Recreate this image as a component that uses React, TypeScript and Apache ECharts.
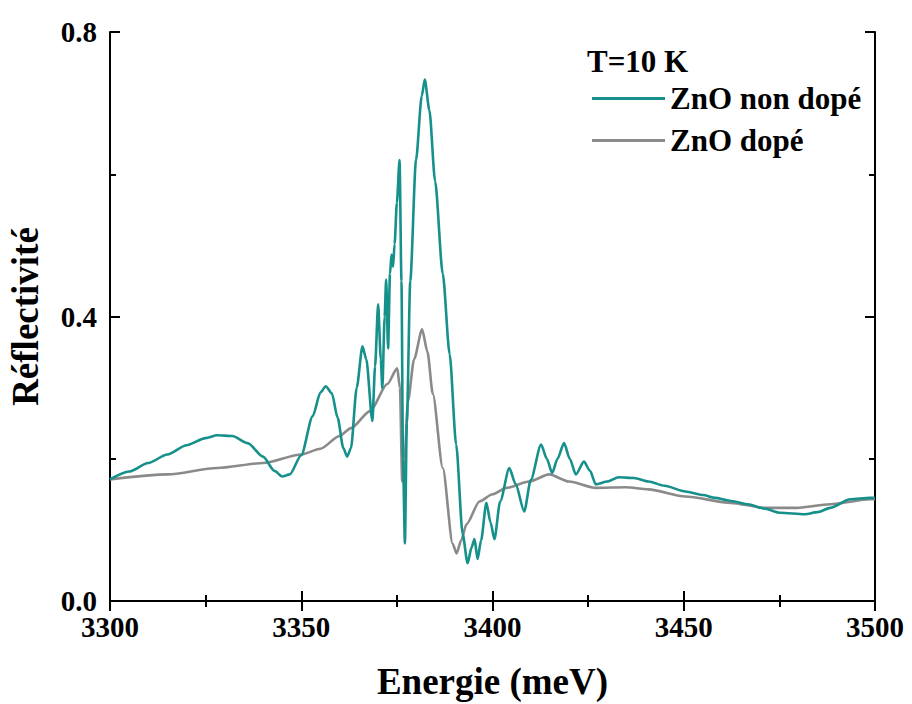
import React, { useEffect, useRef } from "react";
import * as echarts from "echarts";

const xTicks = [3300, 3350, 3400, 3450, 3500];
const yTicks = [0.0, 0.4, 0.8];

const undopedX = [3300, 3305, 3310, 3315, 3320, 3325, 3328, 3332, 3336, 3340, 3343, 3345, 3347, 3350, 3353, 3355, 3356.4, 3358, 3359.5, 3361, 3362, 3363, 3364.5, 3366, 3367, 3368.6, 3369.3, 3370.1, 3370.8, 3371.2, 3371.8, 3372.2, 3372.7, 3373.2, 3373.6, 3374, 3374.4, 3375, 3375.7, 3376.2, 3376.6, 3377.1, 3377.6, 3378.5, 3380, 3381.5, 3382.3, 3383.5, 3385, 3387, 3388.8, 3390.5, 3392.2, 3393.5, 3394.5, 3395.3, 3396.1, 3397, 3398.4, 3399.5, 3400.5, 3402, 3404.4, 3406, 3408.3, 3410, 3412.7, 3414.2, 3415.6, 3417, 3418.7, 3420.2, 3421.8, 3423.9, 3425.5, 3427, 3430, 3433, 3437, 3440.8, 3445, 3450.4, 3455, 3458.2, 3462, 3466.8, 3471, 3475.3, 3481.6, 3485, 3488.3, 3493.5, 3498.7, 3500];
const undopedY = [0.171, 0.182, 0.194, 0.206, 0.219, 0.229, 0.233, 0.232, 0.222, 0.203, 0.183, 0.175, 0.178, 0.205, 0.26, 0.293, 0.302, 0.292, 0.258, 0.215, 0.203, 0.215, 0.3, 0.358, 0.34, 0.253, 0.33, 0.417, 0.34, 0.299, 0.4, 0.452, 0.355, 0.46, 0.487, 0.47, 0.502, 0.56, 0.62, 0.45, 0.2, 0.081, 0.25, 0.45, 0.62, 0.71, 0.733, 0.69, 0.59, 0.46, 0.347, 0.22, 0.094, 0.053, 0.075, 0.087, 0.059, 0.085, 0.138, 0.11, 0.087, 0.14, 0.187, 0.165, 0.126, 0.17, 0.22, 0.2, 0.18, 0.2, 0.222, 0.2, 0.178, 0.196, 0.183, 0.164, 0.168, 0.174, 0.173, 0.168, 0.162, 0.154, 0.149, 0.145, 0.141, 0.136, 0.13, 0.124, 0.122, 0.125, 0.131, 0.143, 0.145, 0.145];

const dopedX = [3300, 3315, 3328, 3340, 3350, 3355, 3360, 3363, 3368, 3372.5, 3375.1, 3375.8, 3376.4, 3377, 3377.9, 3379.5, 3381.6, 3383, 3384.4, 3387, 3389.6, 3390.6, 3391.8, 3393.2, 3396.6, 3400, 3403.6, 3409.6, 3414.8, 3420, 3427, 3434.8, 3440.8, 3450.4, 3462.3, 3471.2, 3479.7, 3488.3, 3498.7, 3500];
const dopedY = [0.171, 0.178, 0.187, 0.194, 0.206, 0.214, 0.232, 0.243, 0.267, 0.305, 0.327, 0.3, 0.168, 0.2, 0.281, 0.34, 0.382, 0.35, 0.291, 0.187, 0.08, 0.067, 0.085, 0.108, 0.14, 0.15, 0.159, 0.168, 0.178, 0.168, 0.159, 0.16, 0.157, 0.147, 0.138, 0.131, 0.131, 0.136, 0.143, 0.143];

const seriesNames = ["ZnO non dopé", "ZnO dopé"];
const legendTitle = "T=10 K";
const TEAL = "#16908b";
const GRAY = "#8a8a8a";
const FONT = "Liberation Serif";

export default function App() {
  const ref = useRef<HTMLDivElement>(null);
  useEffect(() => {
    if (!ref.current) return;
    const chart = echarts.init(ref.current, undefined, { renderer: "svg" });
    const axisLine = { show: true, lineStyle: { color: "#000", width: 2 } };
    const tick = { show: true, inside: true, length: 10, lineStyle: { color: "#000", width: 2 } };
    const minor = { show: true, splitNumber: 2, length: 6, lineStyle: { color: "#000", width: 2 } };
    chart.setOption({
      animation: false,
      backgroundColor: "#fff",
      grid: { left: 110, right: 37, top: 32, bottom: 103, containLabel: false, outerBoundsMode: "none" },
      legend: {
        orient: "vertical",
        left: 587,
        top: 78,
        itemWidth: 73,
        itemHeight: 3,
        itemGap: 11,
        icon: "rect",
        textStyle: { fontFamily: FONT, fontWeight: "bold", fontSize: 31, color: "#000" },
        data: seriesNames,
      },
      graphic: [
        {
          type: "text",
          left: 587,
          top: 46,
          style: { text: legendTitle, font: `bold 31px ${FONT}`, fill: "#000" },
        },
      ],
      xAxis: [
        {
          type: "value",
          min: 3300,
          max: 3500,
          interval: 50,
          name: "Energie (meV)",
          nameLocation: "middle",
          nameGap: 63,
          nameTextStyle: { fontFamily: FONT, fontWeight: "bold", fontSize: 37, lineHeight: 34, color: "#000" },
          axisLine,
          axisTick: tick,
          minorTick: minor,
          splitLine: { show: false },
          axisLabel: {
            fontFamily: FONT,
            fontWeight: "bold",
            fontSize: 29,
            lineHeight: 22,
            color: "#000",
            margin: 15,
            formatter: (v: number) => (xTicks.includes(v) ? String(v) : ""),
          },
        },
        {
          type: "value",
          position: "top",
          min: 3300,
          max: 3500,
          interval: 50,
          axisLine,
          axisTick: tick,
          minorTick: minor,
          splitLine: { show: false },
          axisLabel: { show: false },
        },
      ],
      yAxis: [
        {
          type: "value",
          min: 0,
          max: 0.8,
          interval: 0.4,
          name: "Réflectivité",
          nameLocation: "middle",
          nameGap: 66,
          nameTextStyle: { fontFamily: FONT, fontWeight: "bold", fontSize: 37, color: "#000" },
          axisLine,
          axisTick: tick,
          minorTick: minor,
          splitLine: { show: false },
          axisLabel: {
            fontFamily: FONT,
            fontWeight: "bold",
            fontSize: 29,
            lineHeight: 20,
            color: "#000",
            margin: 13,
            formatter: (v: number) => {
              const t = yTicks.find((y) => Math.abs(y - v) < 1e-9);
              return t === undefined ? "" : t.toFixed(1);
            },
          },
        },
        {
          type: "value",
          position: "right",
          min: 0,
          max: 0.8,
          interval: 0.4,
          axisLine,
          axisTick: tick,
          minorTick: minor,
          splitLine: { show: false },
          axisLabel: { show: false },
        },
      ],
      series: [
        {
          name: seriesNames[0],
          type: "line",
          data: undopedX.map((x, i) => [x, undopedY[i]]),
          showSymbol: false,
          smooth: 0.25,
          smoothMonotone: "x",
          lineStyle: { color: TEAL, width: 2.6 },
          itemStyle: { color: TEAL },
          z: 3,
        },
        {
          name: seriesNames[1],
          type: "line",
          data: dopedX.map((x, i) => [x, dopedY[i]]),
          showSymbol: false,
          smooth: 0.25,
          smoothMonotone: "x",
          lineStyle: { color: GRAY, width: 2.6 },
          itemStyle: { color: GRAY },
          z: 2,
        },
      ],
    });
    return () => chart.dispose();
  }, []);
  return <div ref={ref} style={{ position: "fixed", left: 0, top: 0, width: 912, height: 704 }} />;
}
